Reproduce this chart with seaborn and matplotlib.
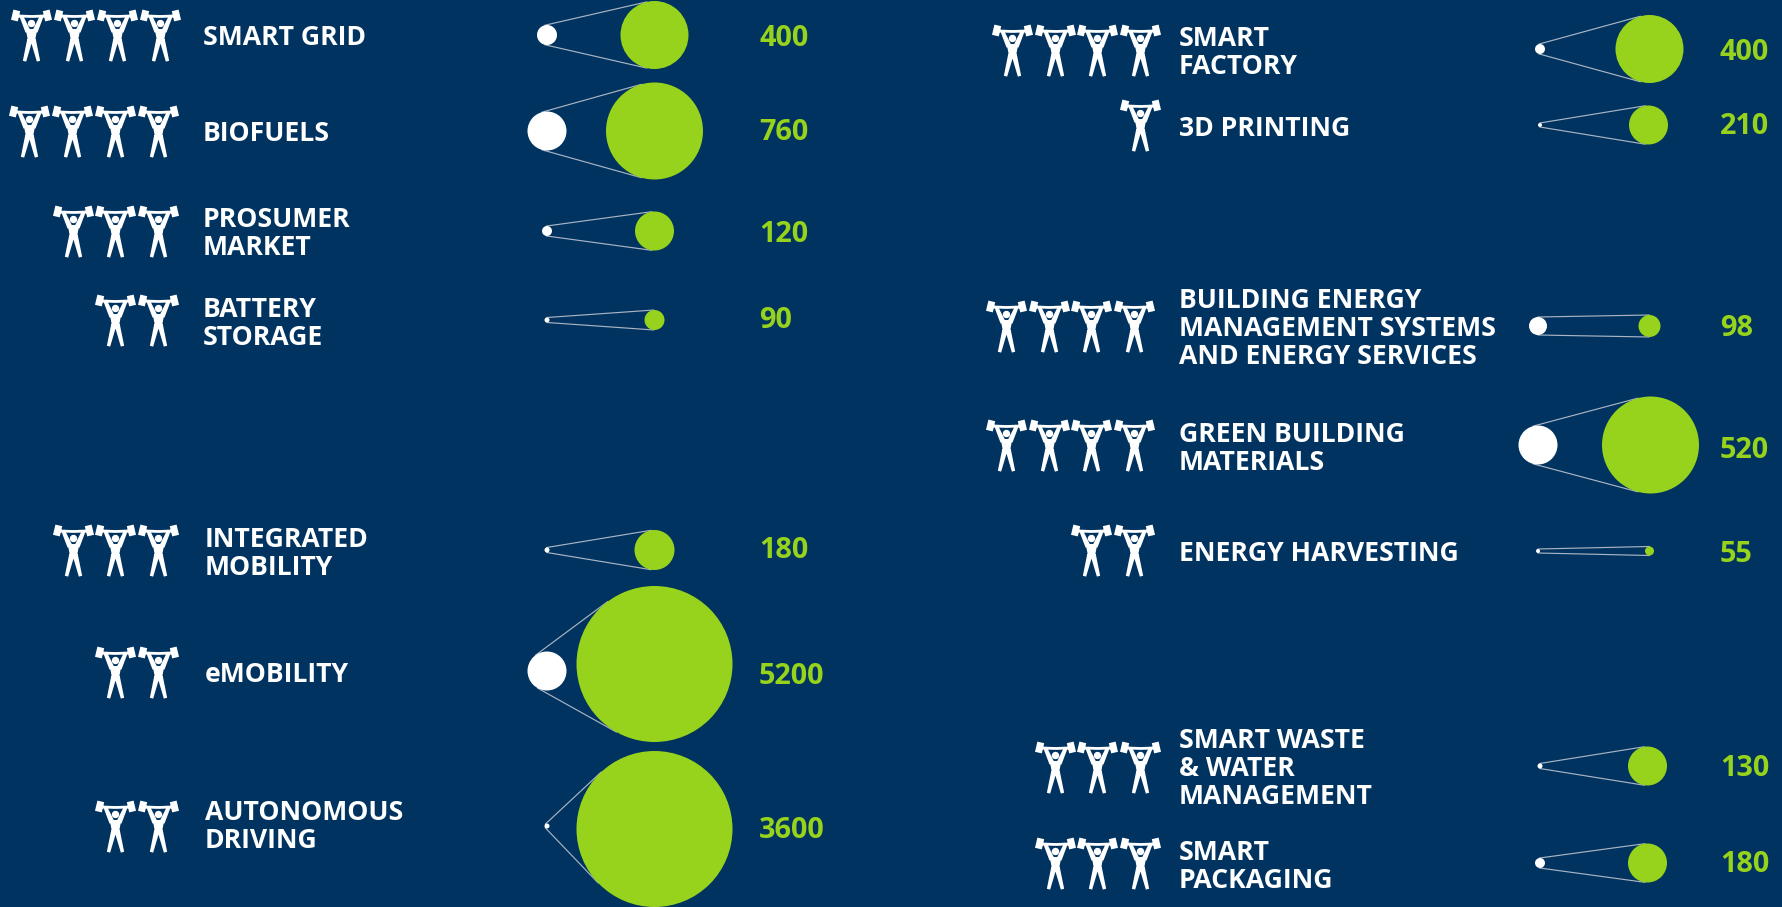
import numpy as np
import pandas as pd
import seaborn as sns
import matplotlib.pyplot as plt
from matplotlib.path import Path

# ---- data ----
TOPICS = ["SMART GRID", "BIOFUELS", "PROSUMER\nMARKET", "BATTERY\nSTORAGE",
          "INTEGRATED\nMOBILITY", "eMOBILITY", "AUTONOMOUS\nDRIVING",
          "SMART\nFACTORY", "3D PRINTING",
          "BUILDING ENERGY\nMANAGEMENT SYSTEMS\nAND ENERGY SERVICES",
          "GREEN BUILDING\nMATERIALS", "ENERGY HARVESTING",
          "SMART WASTE\n& WATER\nMANAGEMENT", "SMART\nPACKAGING"]
VALUES = [400, 760, 120, 90, 180, 5200, 3600, 400, 210, 98, 520, 55, 130, 180]
LIFTERS = [4, 4, 3, 2, 3, 2, 2, 4, 1, 4, 4, 2, 3, 3]
START_BUBBLE = [20, 39, 10, 5, 5, 39, 5, 10, 4, 18, 39, 4, 5, 10]
END_BUBBLE = [68, 97, 39, 20, 40, 156, 156, 68, 39, 22, 97, 9, 39, 39]

# ---- layout (pixel frame of the 1782x907 picture) ----
ROW_Y = [35, 131, 231, 320, 550, 664, 829, 49, 125, 326, 445, 551, 766, 863]
START_Y = [35, 131, 231, 320, 550, 671, 826, 49, 125, 326, 445, 551, 766, 863]
START_X = [547] * 7 + [1540, 1540, 1538, 1538, 1538, 1540, 1540]
END_X = [654.5] * 7 + [1649.5, 1648.5, 1649.5, 1650.5, 1649.5, 1647.5, 1647.5]
LABEL_X = [203, 203, 203, 203, 205, 205, 205] + [1179] * 7
LABEL_Y = [38, 134, 234, 324, 554, 675, 827, 53, 129, 329, 449, 554, 769, 867]
VALUE_X = [759] * 7 + [1720] * 7
VALUE_Y = [39, 133, 235, 321, 551, 676, 830, 53, 126, 329, 450, 555, 768, 864]
ICON_X = [159.5, 157.5, 158, 158, 158, 158, 158, 1140, 1140, 1134, 1134, 1134, 1140, 1140]
ICON_Y = [35, 131, 231, 320, 550, 672, 826, 50, 125, 326, 445, 550, 767, 863]
ICON_STEP = 42.7

BG = "#00335f"
GREEN = "#97d31c"
FONT = "Open Sans"
PX = 72 / 100  # points per pixel at dpi 100


def ccw(poly):
    p = np.asarray(poly, float)
    x, y = p[:, 0], p[:, 1]
    if np.sum(x * np.roll(y, -1) - np.roll(x, -1) * y) < 0:
        p = p[::-1]
    return p


def limb(a, b, w1, w2):
    a, b = np.array(a, float), np.array(b, float)
    u = (b - a) / np.hypot(*(b - a))
    n = np.array([-u[1], u[0]])
    return [a + n * w1 / 2, b + n * w2 / 2, b - n * w2 / 2, a - n * w1 / 2]


def lifter_path():
    parts = [
        limb((-12.5, 19.2), (-19.3, 20.8), 10.5, 10.5),
        limb((12.5, 19.2), (19.3, 20.8), 10.5, 10.5),
        limb((-13, 19.5), (0, 19), 2.8, 2.8),
        limb((13, 19.5), (0, 19), 2.8, 2.8),
        limb((-10.5, 20), (-3.5, 4), 3.6, 5.4),
        limb((10.5, 20), (3.5, 4), 3.6, 5.4),
        [(-5.8, 6.5), (5.8, 6.5), (3.2, -7), (-3.2, -7)],
        limb((-1.6, -4), (-7, -25.7), 5.4, 3.4),
        limb((1.6, -4), (7, -25.7), 5.4, 3.4),
    ]
    t = np.linspace(0, 2 * np.pi, 24, endpoint=False)
    parts.append(np.c_[3.7 * np.cos(t), 12 + 3.7 * np.sin(t)])
    verts, codes = [], []
    for part in parts:
        p = ccw(part)
        verts += list(p) + [p[0]]
        codes += [Path.MOVETO] + [Path.LINETO] * (len(p) - 1) + [Path.CLOSEPOLY]
    return Path(np.array(verts), codes)


sns.set_theme(style="white", rc={"figure.facecolor": BG, "axes.facecolor": BG})
fig, ax = plt.subplots(figsize=(17.82, 9.07), dpi=100)
ax.set_position([0, 0, 1, 1])
ax.set_xlim(0, 1782)
ax.set_ylim(907, 0)
ax.axis("off")

df = pd.DataFrame({"topic": TOPICS, "value": VALUES, "lifters": LIFTERS,
                   "d0": START_BUBBLE, "d1": END_BUBBLE,
                   "y": ROW_Y, "y0": START_Y, "x0": START_X, "x1": END_X})
df["s0"] = (df.d0 * PX) ** 2
df["s1"] = (df.d1 * PX) ** 2

# connector lines: outer tangents between the two bubbles
for r in df.itertuples():
    c0, c1 = np.array([r.x0, r.y0], float), np.array([r.x1, r.y], float)
    r0, r1 = r.d0 / 2, r.d1 / 2
    D = np.hypot(*(c1 - c0))
    u = (c1 - c0) / D
    perp = np.array([-u[1], u[0]])
    cosa = (r0 - r1) / D
    sina = np.sqrt(1 - cosa ** 2)
    for sgn in (1, -1):
        n = u * cosa + perp * sina * sgn
        a, b = c0 + r0 * n, c1 + r1 * n
        ax.plot([a[0], b[0]], [a[1], b[1]], color="#aab4c3", lw=0.85, zorder=1)

sns.scatterplot(data=df, x="x1", y="y", size="s1", sizes=(df.s1.min(), df.s1.max()),
                size_norm=(df.s1.min(), df.s1.max()), color=GREEN, linewidth=0,
                legend=False, ax=ax, zorder=2)
sns.scatterplot(data=df, x="x0", y="y0", size="s0", sizes=(df.s0.min(), df.s0.max()),
                size_norm=(df.s0.min(), df.s0.max()), color="white", linewidth=0,
                legend=False, ax=ax, zorder=3)

# lifter pictograms, one per unit of LIFTERS, right aligned on the row
icon = lifter_path()
rows = [(ix - k * ICON_STEP, iy) for ix, iy, n in zip(ICON_X, ICON_Y, LIFTERS) for k in range(n)]
icons = pd.DataFrame(rows, columns=["x", "y"])
half = np.abs(icon.vertices).max()
sns.scatterplot(data=icons, x="x", y="y", marker=icon, s=(2 * half * PX) ** 2,
                color="white", linewidth=0, legend=False, ax=ax, zorder=3)

for t, x, y in zip(TOPICS, LABEL_X, LABEL_Y):
    ax.text(x, y, t, color="white", fontsize=19.2, fontweight="bold", family=FONT,
            ha="left", va="center", linespacing=1.11)
for v, x, y in zip(VALUES, VALUE_X, VALUE_Y):
    ax.text(x, y, str(v), color=GREEN, fontsize=20.8, fontweight="bold", family=FONT,
            ha="left", va="center")

ax.set_xlabel("")
ax.set_ylabel("")
fig.savefig("out.png", dpi=100, facecolor=BG)
